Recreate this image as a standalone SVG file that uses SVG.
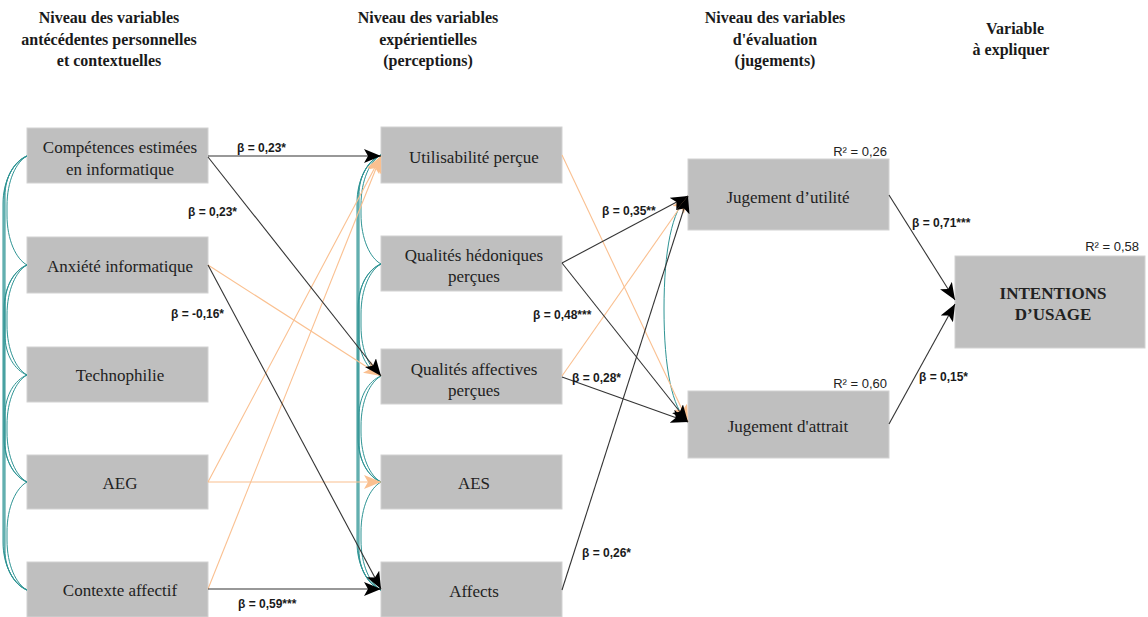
<svg xmlns="http://www.w3.org/2000/svg" width="1148" height="617" viewBox="0 0 1148 617">
<defs>
<style>
.hdr{font-family:"Liberation Serif","Times New Roman",serif;font-weight:bold;font-size:16px;fill:#1a1a1a;text-anchor:middle}
.box{fill:#bfbfbf;stroke:#d2d2d2;stroke-width:1}
.lbl{font-family:"Liberation Serif","Times New Roman",serif;font-size:17px;fill:#222;text-anchor:middle}
.big{font-family:"Liberation Serif","Times New Roman",serif;font-size:17px;font-weight:bold;fill:#222;text-anchor:middle}
.beta{font-family:"Liberation Sans",Arial,sans-serif;font-size:12px;font-weight:bold;fill:#1a1a1a}
.r2{font-family:"Liberation Sans",Arial,sans-serif;font-size:13px;fill:#222;text-anchor:end}
.teal{fill:none;stroke:#2e9494;stroke-width:1}
.blk{fill:none;stroke:#333;stroke-width:1.1;marker-end:url(#ab)}
.org{fill:none;stroke:#fac090;stroke-width:1.1;marker-end:url(#ao)}
</style>
<marker id="ab" markerUnits="userSpaceOnUse" markerWidth="18" markerHeight="14" refX="17" refY="7" orient="auto">
<path d="M0,0 L17,7 L0,14 L4,7 z" fill="#000"/>
</marker>
<marker id="ao" markerUnits="userSpaceOnUse" markerWidth="18" markerHeight="14" refX="17" refY="7" orient="auto">
<path d="M0,0 L17,7 L0,14 L4,7 z" fill="#fac090"/>
</marker>
</defs>
<rect width="1148" height="617" fill="#fff"/>

<g id="headers">
<text class="hdr" x="109" y="23">Niveau des variables</text>
<text class="hdr" x="109" y="45">antécédentes personnelles</text>
<text class="hdr" x="109" y="66">et contextuelles</text>
<text class="hdr" x="428" y="23">Niveau des variables</text>
<text class="hdr" x="428" y="45">expérientielles</text>
<text class="hdr" x="428" y="66">(perceptions)</text>
<text class="hdr" x="775" y="23">Niveau des variables</text>
<text class="hdr" x="775" y="45">d'évaluation</text>
<text class="hdr" x="775" y="66">(jugements)</text>
<text class="hdr" x="1015" y="34">Variable</text>
<text class="hdr" x="1011" y="55">à expliquer</text>
</g>

<g id="n-competences"><rect class="box" x="27" y="128" width="181" height="55"/><text class="lbl" x="120" y="153">Compétences estimées</text><text class="lbl" x="120" y="175">en informatique</text></g>
<g id="n-anxiete"><rect class="box" x="27" y="237" width="181" height="56"/><text class="lbl" x="120" y="272">Anxiété informatique</text></g>
<g id="n-technophilie"><rect class="box" x="27" y="347" width="181" height="55"/><text class="lbl" x="120" y="381">Technophilie</text></g>
<g id="n-aeg"><rect class="box" x="27" y="455" width="181" height="54"/><text class="lbl" x="120" y="489">AEG</text></g>
<g id="n-contexte"><rect class="box" x="27" y="562" width="181" height="55"/><text class="lbl" x="120" y="596">Contexte affectif</text></g>

<g id="n-utilisabilite"><rect class="box" x="381" y="127" width="181" height="56"/><text class="lbl" x="474" y="163">Utilisabilité perçue</text></g>
<g id="n-hedoniques"><rect class="box" x="381" y="236" width="181" height="55"/><text class="lbl" x="474" y="261">Qualités hédoniques</text><text class="lbl" x="474" y="282">perçues</text></g>
<g id="n-affectives"><rect class="box" x="381" y="349" width="181" height="55"/><text class="lbl" x="474" y="375">Qualités affectives</text><text class="lbl" x="474" y="396">perçues</text></g>
<g id="n-aes"><rect class="box" x="381" y="455" width="181" height="54"/><text class="lbl" x="474" y="489">AES</text></g>
<g id="n-affects"><rect class="box" x="381" y="562" width="181" height="55"/><text class="lbl" x="474" y="597">Affects</text></g>

<g id="n-utilite"><rect class="box" x="688" y="159" width="201" height="71"/><text class="lbl" x="788" y="203">Jugement d’utilité</text><text class="r2" x="887" y="156">R² = 0,26</text></g>
<g id="n-attrait"><rect class="box" x="688" y="391" width="201" height="67"/><text class="lbl" x="788" y="432">Jugement d'attrait</text><text class="r2" x="887" y="388">R² = 0,60</text></g>
<g id="n-intentions"><rect class="box" x="955" y="256" width="190" height="92"/><text class="big" x="1053" y="299">INTENTIONS</text><text class="big" x="1053" y="320">D’USAGE</text><text class="r2" x="1139" y="251">R² = 0,58</text></g>

<g id="connectors">
<g id="correlations">
<path class="teal" d="M27 156 C16 162,7 181,7 206 L7 215 C7 240,16 259,27 265"/>
<path class="teal" d="M27 265 C16 271,7 290,7 315 L7 325 C7 350,16 369,27 375"/>
<path class="teal" d="M27 375 C16 381,7 400,7 425 L7 432 C7 457,16 476,27 482"/>
<path class="teal" d="M27 482 C16 488,7 507,7 532 L7 540 C7 565,16 584,27 590"/>
<path class="teal" d="M27 156 C14.9 160.8,5 176,5 196 L5 335 C5 355,14.9 370.2,27 375"/>
<path class="teal" d="M27 265 C14.9 269.8,5 285,5 305 L5 442 C5 462,14.9 477.2,27 482"/>
<path class="teal" d="M27 375 C14.9 379.8,5 395,5 415 L5 550 C5 570,14.9 585.2,27 590"/>
<path class="teal" d="M27 156 C14.4 161.3,4 178,4 200 L4 438 C4 460,14.4 476.7,27 482"/>
<path class="teal" d="M27 265 C14.4 270.3,4 287,4 309 L4 546 C4 568,14.4 584.7,27 590"/>
<path class="teal" d="M27 156 C13.8 161.8,3 180,3 204 L3 542 C3 566,13.8 584.2,27 590"/>

<path class="teal" d="M381 155 C370 161,361 180,361 205 L361 214 C361 239,370 258,381 264"/>
<path class="teal" d="M381 264 C370 270,361 289,361 314 L361 326 C361 351,370 370,381 376"/>
<path class="teal" d="M381 376 C370 382,361 401,361 426 L361 432 C361 457,370 476,381 482"/>
<path class="teal" d="M381 482 C370 488,361 507,361 532 L361 540 C361 565,370 584,381 590"/>
<path class="teal" d="M381 155 C368.9 159.8,359 175,359 195 L359 336 C359 356,368.9 371.2,381 376"/>
<path class="teal" d="M381 264 C368.9 268.8,359 284,359 304 L359 442 C359 462,368.9 477.2,381 482"/>
<path class="teal" d="M381 376 C368.9 380.8,359 396,359 416 L359 550 C359 570,368.9 585.2,381 590"/>
<path class="teal" d="M381 155 C368.4 160.3,358 177,358 199 L358 438 C358 460,368.4 476.7,381 482"/>
<path class="teal" d="M381 264 C368.4 269.3,358 286,358 308 L358 546 C358 568,368.4 584.7,381 590"/>
<path class="teal" d="M381 155 C367.8 160.8,357 179,357 203 L357 542 C357 566,367.8 584.2,381 590"/>

<path class="teal" d="M688 196 C672 210,664 250,664 309 C664 368,672 408,688 422"/>
</g>
<g id="weak-paths">
<path class="org" d="M208 265 L381 376"/>
<path class="org" d="M208 482 L381 156"/>
<path class="org" d="M208 482 L381 482"/>
<path class="org" d="M208 589 L381 156"/>
<path class="org" d="M562 155 L688 422"/>
<path class="org" d="M562 376 L688 196"/>
</g>
<g id="paths">
<path class="blk" d="M208 156 L381 156"/>
<path class="blk" d="M208 157 L381 376"/>
<path class="blk" d="M208 265 L381 589"/>
<path class="blk" d="M208 589 L381 589"/>
<path class="blk" d="M562 263 L688 196"/>
<path class="blk" d="M562 263 L688 422"/>
<path class="blk" d="M562 377 L688 422"/>
<path class="blk" d="M562 590 L688 196"/>
<path class="blk" d="M889 195 L955 300"/>
<path class="blk" d="M889 424 L955 304"/>
</g>
<g id="coefficients">
<text class="beta" x="237" y="152">β = 0,23*</text>
<text class="beta" x="188" y="216">β = 0,23*</text>
<text class="beta" x="171" y="318">β = -0,16*</text>
<text class="beta" x="238" y="608">β = 0,59***</text>
<text class="beta" x="602" y="215">β = 0,35**</text>
<text class="beta" x="533" y="319">β = 0,48***</text>
<text class="beta" x="572" y="382">β = 0,28*</text>
<text class="beta" x="582" y="557">β = 0,26*</text>
<text class="beta" x="912" y="227">β = 0,71***</text>
<text class="beta" x="919" y="381">β = 0,15*</text>
</g>
</g>
</svg>
